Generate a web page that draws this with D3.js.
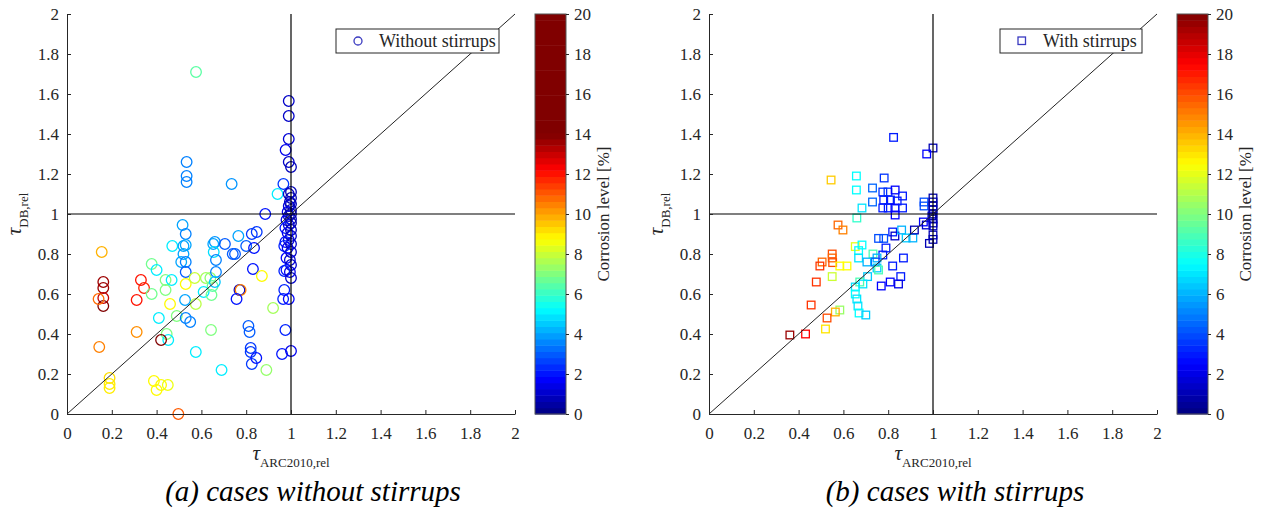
<!DOCTYPE html>
<html><head><meta charset="utf-8">
<script src="https://cdn.jsdelivr.net/npm/d3@7"></script>
<style>
body{margin:0;background:#fff}
svg{display:block}
svg text{font-family:"Liberation Serif","Tinos","Times New Roman",Times,"DejaVu Serif",serif !important}
</style>
</head><body>
<svg id="c" width="1265" height="508"></svg>
<script>
// ---------- data ----------
const axisTicks = [0, 0.2, 0.4, 0.6, 0.8, 1, 1.2, 1.4, 1.6, 1.8, 2];
const corrosionTicks = [0, 2, 4, 6, 8, 10, 12, 14, 16, 18, 20];

// (a) without stirrups: tau_ARC2010,rel, tau_DB,rel, corrosion level [%]
const withoutX = [0.99,0.99,0.99,0.976,0.99,1.0,0.966,0.94,
  1.0,0.99,1.0,0.995,1.0,0.99,1.0,0.985,1.0,0.99,1.0,0.98,1.0,0.99,0.975,1.0,0.985,1.0,0.99,0.975,1.0,0.97,0.985,1.0,0.98,0.995,1.0,0.98,0.97,0.995,1.0,0.97,0.965,0.99,0.975,0.96,1.0,
  0.155,0.162,0.162,0.162,0.162,0.141,0.144,0.33,0.344,0.311,0.311,0.19,0.19,0.19,
  0.378,0.378,0.40,0.47,0.44,0.467,0.44,0.46,0.41,0.49,0.445,0.452,0.42,0.388,0.40,0.42,0.45,0.497,
  0.516,0.53,0.52,0.53,0.52,0.51,0.53,0.53,0.527,0.53,0.55,0.53,0.57,0.575,0.575,
  0.62,0.64,0.61,0.645,0.65,0.643,0.653,0.66,0.655,0.665,0.665,0.66,0.69,0.705,0.765,0.74,0.75,0.80,
  0.825,0.847,0.835,0.83,0.77,0.775,0.757,0.87,0.92,0.81,0.815,0.82,0.82,0.825,0.845,0.89,0.885,
  0.576,0.534,0.534,0.534,0.735];
const withoutY = [1.565,1.49,1.375,1.32,1.26,1.235,1.15,1.10,
  1.11,1.10,1.08,1.06,1.05,1.04,1.02,1.01,1.0,0.99,0.975,0.97,0.955,0.945,0.93,0.92,0.905,0.89,0.87,0.86,0.85,0.84,0.83,0.81,0.78,0.77,0.745,0.72,0.715,0.71,0.68,0.62,0.575,0.575,0.42,0.30,0.315,
  0.81,0.66,0.63,0.58,0.54,0.575,0.335,0.67,0.63,0.57,0.41,0.18,0.15,0.13,
  0.75,0.60,0.72,0.84,0.67,0.67,0.62,0.55,0.48,0.49,0.40,0.37,0.37,0.165,0.12,0.145,0.145,0.0,
  0.945,0.90,0.84,0.845,0.80,0.76,0.76,0.71,0.57,0.48,0.46,0.65,0.68,0.55,0.31,
  0.68,0.68,0.61,0.595,0.64,0.42,0.85,0.86,0.81,0.77,0.71,0.66,0.22,0.85,0.89,0.80,0.80,0.84,
  0.90,0.91,0.83,0.725,0.62,0.62,0.575,0.69,0.53,0.44,0.41,0.33,0.31,0.25,0.28,0.22,1.0,
  1.71,1.26,1.19,1.16,1.15];
const withoutC = [1,1,1.2,1.5,1,0.8,2.5,5,
  0.8,1,0.6,1,0.8,1.2,0.6,1.5,0.5,1,0.8,1.5,0.6,1.2,2,0.8,1.5,1,1.2,2,1,2.2,1.5,1,1.8,1.2,1,2,2.2,1.5,1,2.2,2.2,1.8,2.2,2,1.5,
  9.8,13.6,13.6,13,14,10.8,10.5,12,11.8,12,10.3,9.2,9,9,
  6.8,6.8,5,5,7,5,7,8.8,5,7,7,5,14,8.8,8.8,8.8,8.5,11,
  4,3.5,4,4,4,4,3.5,3,4,3.5,3.5,8.8,8,7.8,5,
  7.5,7.2,5,6.8,6.5,7,4,3.8,4.8,3.5,3.5,4.5,5,3,4,3,3,3,
  2.5,2.5,2,2,1,10.5,2,8.8,7.5,3,3,2.5,2.5,2.5,2,7.3,2,
  6.5,3.5,3.5,3.5,3.8];

// (b) with stirrups
const withX = [0.824,1.0,0.972,0.545,0.658,0.658,0.782,0.73,0.776,0.799,0.831,0.864,0.78,0.81,0.84,0.73,
  0.776,0.80,0.83,0.864,0.831,0.683,0.66,0.96,0.96,
  1.0,1.0,1.0,1.0,1.0,0.995,1.0,1.0,1.0,
  0.576,0.598,0.82,0.83,0.86,0.88,0.91,0.917,0.957,0.97,0.757,0.78,0.79,1.0,1.0,0.984,
  0.653,0.683,0.668,0.668,0.732,0.776,0.75,0.742,0.868,0.705,0.82,0.75,0.757,
  0.55,0.55,0.552,0.505,0.495,0.584,0.616,0.55,0.708,0.856,0.809,0.846,0.769,0.673,0.687,0.479,
  0.653,0.653,0.66,0.665,0.67,0.70,
  0.456,0.584,0.564,0.527,0.52,0.431,0.361];
const withY = [1.383,1.33,1.30,1.17,1.19,1.12,1.18,1.13,1.11,1.11,1.12,1.09,1.07,1.07,1.065,1.06,
  1.03,1.03,1.03,1.03,0.995,1.03,0.98,1.06,1.04,
  1.08,1.06,1.04,1.02,1.0,0.99,0.975,0.955,0.94,
  0.945,0.92,0.91,0.89,0.92,0.88,0.88,0.92,0.96,0.945,0.878,0.878,0.83,0.895,0.873,0.853,
  0.837,0.845,0.817,0.78,0.80,0.795,0.78,0.76,0.78,0.76,0.74,0.73,0.72,
  0.80,0.78,0.757,0.76,0.74,0.74,0.74,0.687,0.687,0.687,0.66,0.65,0.64,0.66,0.65,0.66,
  0.635,0.60,0.575,0.54,0.505,0.495,
  0.545,0.52,0.51,0.48,0.425,0.40,0.395];
const withC = [3,1,2.5,13.5,7.5,7.5,3.5,4.5,3.5,3.5,2.5,3,3,3,3,4.5,
  3,3,2.5,3,2.5,7,8.5,4,4,
  0.8,1,0.6,1,0.8,1.2,0.6,1,1.2,
  15.5,15,3,1.5,6,6.5,6,1,2.5,1.5,4,4,3,1,1,1,
  12,7.5,7.5,7,9,3,6,4,3,6,3,6.5,9,
  16,15.5,16,15.5,16.5,12.5,12.5,11.5,6.5,3,2.5,2,2.5,9,7,16.5,
  7,7.5,7,7,7.5,6.5,
  16.5,10.5,14,16,13,17.5,19.5];

// ---------- helpers ----------
function jet(t) {
  t = Math.max(0, Math.min(1, t));
  const f = v => Math.round(255 * Math.max(0, Math.min(1, v)));
  return `rgb(${f(1.5 - Math.abs(4 * t - 3))},${f(1.5 - Math.abs(4 * t - 2))},${f(1.5 - Math.abs(4 * t - 1))})`;
}

const FONT = '"Liberation Serif","Tinos","Times New Roman",Times,"DejaVu Serif",serif';
const svg = d3.select("#c").attr("font-family", FONT);
const AX = "#262626";

function panel(cfg) {
  const x = d3.scaleLinear().domain([0, 2]).range([cfg.x0, cfg.x1]);
  const y = d3.scaleLinear().domain([0, 2]).range([414, 14]);
  const g = svg.append("g");
  const color = v => jet(v / cfg.cmax);

  // points
  const pts = d3.range(cfg.xs.length).map(i => ({x: cfg.xs[i], y: cfg.ys[i], c: cfg.cs[i]}));
  if (cfg.marker === "circle") {
    g.append("g").selectAll("circle").data(pts).join("circle")
      .attr("cx", d => x(d.x)).attr("cy", d => y(d.y)).attr("r", 5.3)
      .attr("fill", "none").attr("stroke", d => color(d.c)).attr("stroke-width", 1.3);
  } else {
    const s = 7.6;
    g.append("g").selectAll("rect").data(pts).join("rect")
      .attr("x", d => x(d.x) - s / 2).attr("y", d => y(d.y) - s / 2)
      .attr("width", s).attr("height", s)
      .attr("fill", "none").attr("stroke", d => color(d.c)).attr("stroke-width", 1.3);
  }

  // reference lines
  g.append("line").attr("x1", x(1)).attr("x2", x(1)).attr("y1", y(0)).attr("y2", y(2))
    .attr("stroke", "#000").attr("stroke-width", 1.2);
  g.append("line").attr("x1", x(0)).attr("x2", x(2)).attr("y1", y(1)).attr("y2", y(1))
    .attr("stroke", "#000").attr("stroke-width", 1.2);
  g.append("line").attr("x1", x(0)).attr("x2", x(2)).attr("y1", y(0)).attr("y2", y(2))
    .attr("stroke", "#222").attr("stroke-width", 1);

  // axes
  const xa = g.append("g").attr("transform", "translate(0,414)")
    .call(d3.axisBottom(x).tickValues(axisTicks).tickFormat(d3.format("~g")).tickSizeInner(-4).tickSizeOuter(0).tickPadding(13));
  const ya = g.append("g").attr("transform", `translate(${cfg.x0},0)`)
    .call(d3.axisLeft(y).tickValues(axisTicks).tickFormat(d3.format("~g")).tickSizeInner(-4).tickSizeOuter(0).tickPadding(8));
  [xa, ya].forEach(a => {
    a.attr("font-family", FONT);
    a.select(".domain").attr("stroke", AX);
    a.selectAll(".tick line").attr("stroke", AX);
    a.selectAll("text").attr("fill", AX).style("font-size", "17px");
  });

  // axis labels
  const cx = (cfg.x0 + cfg.x1) / 2;
  const xl = g.append("text").attr("x", cx).attr("y", 460).attr("text-anchor", "middle").attr("fill", AX);
  xl.append("tspan").text("τ").style("font-size", "21px").style("font-style", "italic");
  xl.append("tspan").text("ARC2010,rel").style("font-size", "13px").attr("dy", 7);
  const yl = g.append("text").attr("transform", `translate(${cfg.x0 - 46},214) rotate(-90)`)
    .attr("text-anchor", "middle").attr("fill", AX);
  yl.append("tspan").text("τ").style("font-size", "21px").style("font-style", "italic");
  yl.append("tspan").text("DB,rel").style("font-size", "13px").attr("dy", 7);

  // caption
  g.append("text").attr("x", cfg.capx).attr("y", 501).attr("text-anchor", "middle")
    .style("font-size", "29px").style("font-style", "italic").attr("fill", "#000").text(cfg.caption);

  // legend
  const lg = g.append("g");
  lg.append("rect").attr("x", cfg.lx).attr("y", 29).attr("width", cfg.lw).attr("height", 24)
    .attr("fill", "#fff").attr("stroke", AX).attr("stroke-width", 1);
  if (cfg.marker === "circle") {
    lg.append("circle").attr("cx", cfg.lx + 22).attr("cy", 41).attr("r", 4)
      .attr("fill", "none").attr("stroke", "#3a3ac0").attr("stroke-width", 1.3);
  } else {
    lg.append("rect").attr("x", cfg.lx + 18).attr("y", 37).attr("width", 7.5).attr("height", 7.5)
      .attr("fill", "none").attr("stroke", "#3a3ac0").attr("stroke-width", 1.3);
  }
  lg.append("text").attr("x", cfg.lx + 43).attr("y", 47).style("font-size", "18px").attr("fill", AX).text(cfg.legend);

  // colorbar
  const cy = d3.scaleLinear().domain([0, 20]).range([414, 14]);
  const cb = g.append("g");
  const n = 64;
  const steps = d3.range(n);
  cb.selectAll("rect.cb").data(steps).join("rect").attr("class", "cb")
    .attr("x", cfg.cbx).attr("width", 31)
    .attr("y", i => cy((i + 1) * 20 / n)).attr("height", i => cy(i * 20 / n) - cy((i + 1) * 20 / n) + 0.5)
    .attr("fill", i => color((i + 0.5) * 20 / n));
  cb.append("rect").attr("x", cfg.cbx).attr("y", 14).attr("width", 31).attr("height", 400)
    .attr("fill", "none").attr("stroke", "#555").attr("stroke-width", 1);
  const ca = cb.append("g").attr("transform", `translate(${cfg.cbx + 31},0)`)
    .call(d3.axisRight(cy).tickValues(corrosionTicks).tickSizeInner(3).tickSizeOuter(0).tickPadding(5));
  ca.attr("font-family", FONT);
  ca.select(".domain").remove();
  ca.selectAll(".tick line").attr("stroke", AX);
  ca.selectAll("text").attr("fill", AX).style("font-size", "17px");
  cb.append("text").attr("transform", `translate(${cfg.cbx + 74},214) rotate(-90)`)
    .attr("text-anchor", "middle").style("font-size", "17px").attr("fill", AX).text("Corrosion level [%]");
}

panel({x0: 67, x1: 515, xs: withoutX, ys: withoutY, cs: withoutC, cmax: 14, marker: "circle",
  legend: "Without stirrups", lx: 336, lw: 163, cbx: 535, capx: 313, caption: "(a) cases without stirrups"});
panel({x0: 709, x1: 1157, xs: withX, ys: withY, cs: withC, cmax: 20, marker: "square",
  legend: "With stirrups", lx: 1000, lw: 142, cbx: 1177, capx: 955, caption: "(b) cases with stirrups"});
</script>
</body></html>
